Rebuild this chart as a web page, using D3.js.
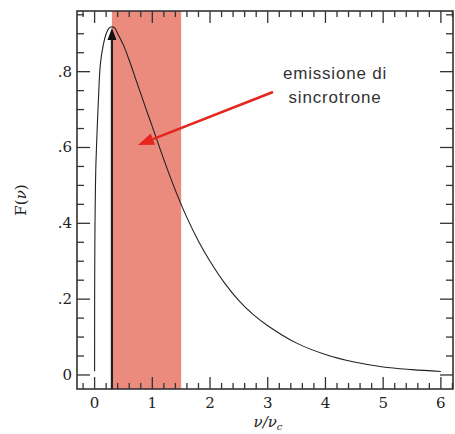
<!DOCTYPE html>
<html>
<head>
<meta charset="utf-8">
<script src="https://cdn.jsdelivr.net/npm/d3@7"></script>
<style>
  body { margin: 0; background: #fff; }
  .tick-label { font-family: "DejaVu Serif", serif; font-size: 15px; fill: #222; }
  .note { font-family: "Liberation Sans", Arial, sans-serif; font-size: 17px; fill: #333; }
</style>
</head>
<body>
<div id="chart"></div>
<script>
  // synchrotron spectrum F(nu)
  const nuValues = [0, 0.0005, 0.002, 0.005, 0.01, 0.02, 0.04, 0.07, 0.1, 0.15, 0.2, 0.25, 0.29,
    0.35, 0.4, 0.5, 0.6, 0.7, 0.8, 0.9, 1.0, 1.2, 1.4, 1.6, 1.8, 2.0, 2.25, 2.5, 2.75, 3.0,
    3.5, 4.0, 4.5, 5.0, 5.5, 6.0];
  const fValues = [0.01, 0.17, 0.27, 0.36, 0.44, 0.54, 0.63, 0.74, 0.82, 0.87, 0.90, 0.915, 0.918,
    0.915, 0.90, 0.87, 0.83, 0.786, 0.742, 0.698, 0.655, 0.568, 0.487, 0.415, 0.353, 0.30, 0.243, 0.196, 0.159, 0.13,
    0.084, 0.054, 0.034, 0.021, 0.014, 0.009];

  const xTickValues = [0, 1, 2, 3, 4, 5, 6];
  const yTickValues = [0, 0.2, 0.4, 0.6, 0.8];
  const yTickLabels = ["0", ".2", ".4", ".6", ".8"];

  const bandRange = [0.3, 1.5];   // shaded region
  const peak = [0.3, 0.915];      // black arrow top
  const noteLines = ["emissione di", "sincrotrone"];

(function () {
  const width = 455, height = 434;
  const left = 77, right = 453, top = 11, bottom = 389;

  const svg = d3.select("#chart").append("svg")
    .attr("width", width)
    .attr("height", height);

  const x = d3.scaleLinear().domain([-0.305, 6.21]).range([left, right]);
  const y = d3.scaleLinear().domain([-0.037, 0.96]).range([bottom, top]);

  // shaded band
  svg.append("rect")
    .attr("x", x(bandRange[0]))
    .attr("y", top)
    .attr("width", x(bandRange[1]) - x(bandRange[0]))
    .attr("height", bottom - top)
    .attr("fill", "#ea8b7e");

  // ticks on all four sides, pointing inward
  const frame = svg.append("g").attr("stroke", "#333").attr("stroke-width", 1.3);
  const xMinor = d3.range(-0.2, 6.21, 0.2).filter(v => Math.abs(v - Math.round(v)) > 1e-6);
  const yMinor = d3.range(0, 0.96, 0.05).filter(v => Math.abs(v * 5 - Math.round(v * 5)) > 1e-6);

  xTickValues.concat(xMinor).forEach(v => {
    const major = xTickValues.includes(v);
    const len = major ? 12 : 6;
    frame.append("line").attr("x1", x(v)).attr("x2", x(v)).attr("y1", bottom).attr("y2", bottom - len);
    frame.append("line").attr("x1", x(v)).attr("x2", x(v)).attr("y1", top).attr("y2", top + len);
  });
  yTickValues.concat(yMinor).forEach(v => {
    const major = yTickValues.some(t => Math.abs(t - v) < 1e-6);
    const len = major ? 13 : 7;
    frame.append("line").attr("y1", y(v)).attr("y2", y(v)).attr("x1", left).attr("x2", left + len);
    frame.append("line").attr("y1", y(v)).attr("y2", y(v)).attr("x1", right).attr("x2", right - len);
  });

  frame.append("rect")
    .attr("x", left).attr("y", top)
    .attr("width", right - left).attr("height", bottom - top)
    .attr("fill", "none")
    .attr("stroke-width", 1.6);

  // tick labels
  svg.selectAll(".xl").data(xTickValues).enter().append("text")
    .attr("class", "tick-label")
    .attr("x", d => x(d))
    .attr("y", 403)
    .attr("text-anchor", "middle")
    .attr("dominant-baseline", "central")
    .text(d => d);

  svg.selectAll(".yl").data(yTickValues).enter().append("text")
    .attr("class", "tick-label")
    .attr("x", 72)
    .attr("y", d => y(d))
    .attr("text-anchor", "end")
    .attr("dominant-baseline", "central")
    .text((d, i) => yTickLabels[i]);

  // axis titles
  const yTitle = svg.append("text")
    .attr("class", "tick-label")
    .attr("transform", "translate(21,200) rotate(-90)")
    .attr("text-anchor", "middle")
    .attr("dominant-baseline", "central");
  yTitle.append("tspan").text("F(");
  yTitle.append("tspan").attr("font-style", "italic").text("ν");
  yTitle.append("tspan").text(")");

  const xTitle = svg.append("text")
    .attr("class", "tick-label")
    .attr("x", 268)
    .attr("y", 427)
    .attr("text-anchor", "middle")
    .attr("font-style", "italic");
  xTitle.append("tspan").text("ν/ν");
  xTitle.append("tspan").attr("font-size", "10px").attr("dy", 3).text("c");

  // spectrum
  const pts = nuValues.map((v, i) => [v, fValues[i]]);
  svg.append("path")
    .datum(pts)
    .attr("fill", "none")
    .attr("stroke", "#222")
    .attr("stroke-width", 1.1)
    .attr("d", d3.line().x(d => x(d[0])).y(d => y(d[1])).curve(d3.curveCatmullRom.alpha(0.5)));

  // black vertical arrow at the peak
  svg.append("line")
    .attr("x1", x(peak[0])).attr("x2", x(peak[0]))
    .attr("y1", bottom).attr("y2", y(peak[1]) + 10)
    .attr("stroke", "#222").attr("stroke-width", 2.2);
  svg.append("path")
    .attr("d", `M${x(peak[0])},${y(peak[1])}l-4.5,12h9z`)
    .attr("fill", "#111");

  // red annotation arrow
  const ax1 = 273, ay1 = 92, ax2 = 138, ay2 = 145;
  const ang = Math.atan2(ay2 - ay1, ax2 - ax1);
  const hl = 16, hw = 6;
  const bx = ax2 - hl * Math.cos(ang), by = ay2 - hl * Math.sin(ang);
  svg.append("line")
    .attr("x1", ax1).attr("y1", ay1).attr("x2", bx).attr("y2", by)
    .attr("stroke", "#e4261f").attr("stroke-width", 2.6);
  svg.append("path")
    .attr("d", `M${ax2},${ay2}L${bx + hw * Math.sin(ang)},${by - hw * Math.cos(ang)}L${bx - hw * Math.sin(ang)},${by + hw * Math.cos(ang)}Z`)
    .attr("fill", "#e4261f");

  svg.selectAll(".note").data(noteLines).enter().append("text")
    .attr("class", "note")
    .attr("x", 335)
    .attr("y", (d, i) => 73 + i * 24)
    .attr("text-anchor", "middle")
    .attr("dominant-baseline", "central")
    .attr("letter-spacing", 0.8)
    .text(d => d);
})();
</script>
</body>
</html>
